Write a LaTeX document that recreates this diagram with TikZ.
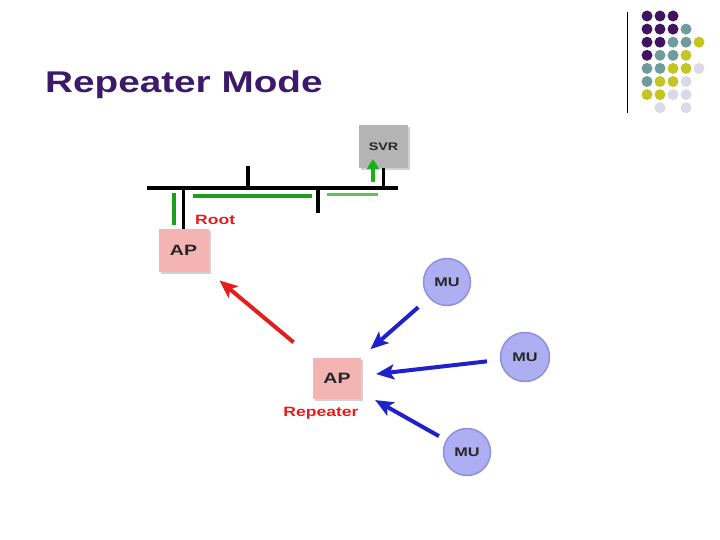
\documentclass[tikz,border=0pt]{standalone}
\usepackage{fontspec}
\setmainfont{Liberation Sans}
\newfontfamily\ttlfont[FakeStretch=1.29]{Liberation Sans}
\newfontfamily\wfont[FakeStretch=1.3]{Liberation Sans}
\usetikzlibrary{arrows.meta,shadows}
\definecolor{ttl}{HTML}{3B1A6B}
\definecolor{dpurp}{HTML}{3F1563}
\definecolor{dteal}{HTML}{6E9C9C}
\definecolor{dyel}{HTML}{C4C423}
\definecolor{dlav}{HTML}{D9D9E8}
\definecolor{apfill}{HTML}{F4B4B4}
\definecolor{svrfill}{HTML}{B4B4B4}
\definecolor{mufill}{HTML}{AEAEF2}
\definecolor{murim}{HTML}{9090DC}
\definecolor{arblue}{HTML}{1E22C8}
\definecolor{arred}{HTML}{E41E1E}
\definecolor{lnkgreen}{HTML}{1E9E1E}
\definecolor{lnklight}{HTML}{5CC45C}
\begin{document}
\begin{tikzpicture}[x=1pt,y=-1pt,
box/.style={minimum width=50pt,minimum height=42pt,inner sep=0pt,drop shadow={shadow xshift=2pt,shadow yshift=-2pt,fill=black!35},text=black!85,font=\wfont\bfseries\fontsize{15}{15}\selectfont},
mu/.style={circle,minimum size=47pt,inner sep=0pt,fill=mufill,draw=murim,line width=1.5pt,text=black!85,font=\wfont\bfseries\fontsize{12.5}{12.5}\selectfont},
lbl/.style={text=arred,inner sep=0pt,font=\wfont\bfseries\fontsize{13.5}{13.5}\selectfont},
bus/.style={line width=3.5pt},
dot/.style={circle,minimum size=11pt,inner sep=0pt},
blu/.style={arblue,line width=4pt,-{Stealth[length=18pt,width=15pt,inset=4pt]}},
rd/.style={arred,line width=4pt,-{Stealth[length=18pt,width=15pt,inset=4pt]}}]
\useasboundingbox(0,0)rectangle(720,540);
\node[anchor=base west,inner sep=0pt,text=ttl,font=\ttlfont\bfseries\fontsize{30}{30}\selectfont](title)at(45,93){Repeater Mode};
\draw[line width=1pt](627,12)--(627,113);
\foreach \c/\r/\col in {0/0/dpurp,1/0/dpurp,2/0/dpurp,0/1/dpurp,1/1/dpurp,2/1/dpurp,3/1/dteal,0/2/dpurp,1/2/dpurp,2/2/dteal,3/2/dteal,4/2/dyel,0/3/dpurp,1/3/dteal,2/3/dteal,3/3/dyel,0/4/dteal,1/4/dteal,2/4/dyel,3/4/dyel,4/4/dlav,0/5/dteal,1/5/dyel,2/5/dyel,3/5/dlav,0/6/dyel,1/6/dyel,2/6/dlav,3/6/dlav,1/7/dlav,3/7/dlav}
  \node[dot,fill=\col](d\c\r)at(647+13*\c,16+13.1*\r){};
\node[box,fill=svrfill,minimum width=49pt,minimum height=43pt,font=\wfont\bfseries\fontsize{11}{11}\selectfont](svr)at(383.5,146.5){SVR};
\node[box,fill=apfill](root)at(183.5,250.5){AP};
\node[box,fill=apfill,minimum width=48pt,minimum height=41pt](rep)at(337,378.5){AP};
\node[lbl,anchor=west](rootlbl)at(195,220){Root};
\node[lbl](replbl)at(321,413){Repeater};
\node[mu](mua)at(447,282){MU};
\node[mu,minimum size=49pt](mub)at(525,357){MU};
\node[mu](muc)at(467,452){MU};
\coordinate(busW)at(147,188);\coordinate(busE)at(398,188);\coordinate(tapN)at(248,166);\coordinate(tapS)at(318,213);
\draw[bus](busW)--(busE);\draw[bus](tapN)--(tapN|-busW);\draw[bus](tapS|-busW)--(tapS);
\draw[bus](root.north)--(root.north|-busW);\draw[bus](svr.south)--(svr.south|-busW);
\draw[lnkgreen,line width=4pt](174,193)--(174,225);\draw[lnkgreen,line width=4pt](193,196)--(312,196);\draw[lnklight,line width=3pt](327,195)--(378,195);
\draw[lnkgreen!80!green,line width=4pt,-{Triangle[length=10pt,width=12pt]}](373,182)--(373,159);
\draw[blu,shorten <=14pt,shorten >=13pt](mua)--(rep);
\draw[blu,shorten <=13pt,shorten >=15pt](mub)--(rep);
\draw[blu,shorten <=8pt,shorten >=16pt](muc)--(rep);
\draw[rd,shorten <=25pt,shorten >=14pt](rep)--(root);
\end{tikzpicture}
\end{document}
